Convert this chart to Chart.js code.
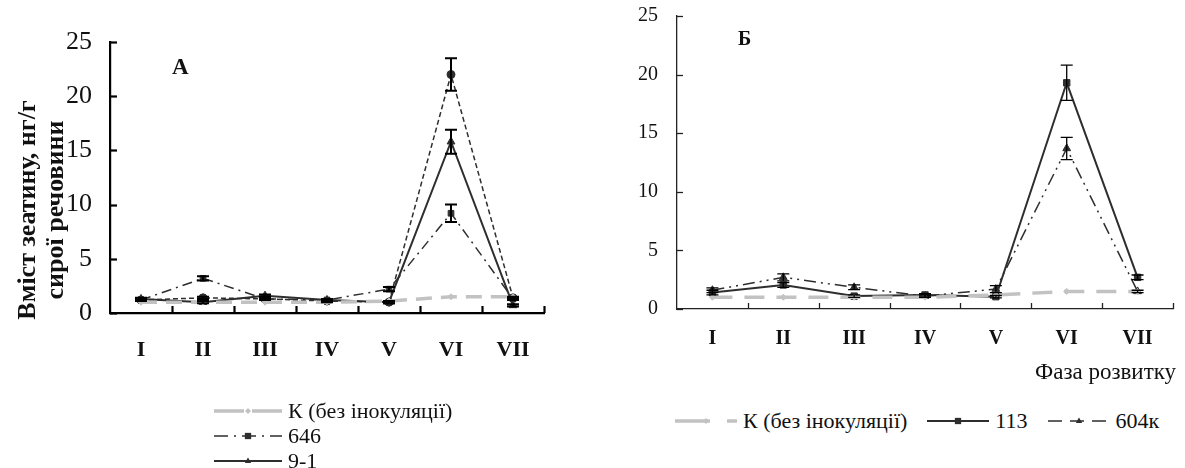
<!DOCTYPE html>
<html><head><meta charset="utf-8">
<script src="https://cdn.jsdelivr.net/npm/chart.js@4.4.0/dist/chart.umd.min.js"></script>
<style>
body{margin:0;background:#fff;width:1185px;height:468px;overflow:hidden;position:relative;font-family:"Liberation Serif","Times New Roman",serif;color:#111;}
.wrap{position:absolute;}
.leg{position:absolute;font-size:22px;color:#111;}
.item{display:flex;align-items:center;height:25px;white-space:nowrap;}
.item canvas{margin-right:6px;}
.panel{position:absolute;font-weight:bold;}
</style></head><body>
<div class="wrap" style="left:0;top:0;width:560px;height:390px"><canvas id="cA"></canvas></div>
<div class="wrap" style="left:600px;top:0;width:585px;height:400px"><canvas id="cB"></canvas></div>
<div class="panel" style="left:172px;top:54px;font-size:23px">А</div>
<div class="panel" style="left:738px;top:27px;font-size:20px">Б</div>
<div class="leg" id="legA" style="left:214px;top:398px"></div>
<div class="leg" id="legB" style="left:675px;top:408px;display:flex"></div>
<div id="xTitleB" style="position:absolute;left:1035px;top:359px;font-size:23px"></div>
<script>
// ---- data ----
const phases = ['I','II','III','IV','V','VI','VII'];
const yTicks = [0,5,10,15,20,25];
const yTitleA = ['Вміст зеатину, нг/г','сирої речовини'];
const xTitleB = 'Фаза розвитку';

// Panel A
const namesA = ['К (без інокуляції)','646','9-1',''];
const controlA = [1.0, 1.0, 1.0, 1.0, 1.1, 1.5, 1.5];
const strain646 = [1.2, 3.2, 1.3, 1.2, 2.2, 9.2, 1.3];
const strain91  = [1.3, 1.0, 1.6, 1.2, 1.0, 15.8, 0.7];
const strainA4  = [1.2, 1.4, 1.3, 1.1, 1.0, 22.0, 1.4];
const err646 = [0.1, 0.2, 0.1, 0.1, 0.2, 0.8, 0.1];
const err91  = [0.1, 0.1, 0.1, 0.1, 0.1, 1.1, 0.1];
const errA4  = [0.1, 0.1, 0.1, 0.1, 0.1, 1.5, 0.1];

// Panel B
const namesB = ['К (без інокуляції)','113','604к'];
const controlB = [1.0, 1.0, 1.0, 1.0, 1.2, 1.5, 1.5];
const strain113  = [1.4, 2.05, 1.1, 1.2, 1.05, 19.3, 2.7];
const strain604k = [1.6, 2.7, 1.85, 1.1, 1.7, 13.7, 1.5];
const err113  = [0.2, 0.2, 0.1, 0.1, 0.1, 1.5, 0.2];
const err604k = [0.2, 0.3, 0.2, 0.1, 0.3, 0.95, 0.1];

// ---- styles ----
const GRAY = '#c2c2c2', DARK = '#2e2e2e';
const FONT = '"Liberation Serif", "Times New Roman", serif';

document.getElementById('xTitleB').textContent = xTitleB;

function ds(label, data, errors, color, width, dash, pstyle, r, legend, legDash){
  return {label, data, errors, borderColor:color, backgroundColor:color, borderWidth:width,
    borderDash:dash, pointStyle:pstyle, pointRadius:r, pointHoverRadius:r, pointBorderWidth:1,
    pointBorderColor:color, pointBackgroundColor:color, tension:0, fill:false, clip:false,
    inLegend:legend, legendDash:legDash || dash};
}

const dsA = [
  ds(namesA[0], controlA, null, GRAY, 3.5, [16,9], 'rectRot', 3, true, [30,8]),
  ds(namesA[1], strain646, err646, DARK, 1.5, [10,5,2,5], 'rect', 4, true, [14,6,2,6]),
  ds(namesA[2], strain91, err91, DARK, 2, [], 'triangle', 4.5, true),
  ds(namesA[3], strainA4, errA4, DARK, 1.5, [5,3], 'circle', 4, false)
];
const dsB = [
  ds(namesB[0], controlB, null, GRAY, 3.5, [20,12], 'rectRot', 3, true, [35,17]),
  ds(namesB[1], strain113, err113, DARK, 2, [], 'rect', 4.5, true),
  ds(namesB[2], strain604k, err604k, DARK, 1.5, [12,5,2,5,2,5], 'triangle', 4.5, true, [14,8])
];

// ---- plugins ----
const deco = {
  id:'deco',
  afterDatasetsDraw(chart, args, o){
    const ctx = chart.ctx, a = chart.chartArea, xs = chart.scales.x, ys = chart.scales.y;
    ctx.save();
    ctx.strokeStyle = '#000'; ctx.lineWidth = o.errWidth; ctx.setLineDash([]);
    chart.data.datasets.forEach((d,i)=>{
      if(!d.errors) return;
      const meta = chart.getDatasetMeta(i);
      d.data.forEach((v,j)=>{
        const e = d.errors[j]; if(!e) return;
        const px = meta.data[j].x;
        const y1 = ys.getPixelForValue(v+e), y2 = ys.getPixelForValue(v-e);
        ctx.beginPath();
        ctx.moveTo(px,y1); ctx.lineTo(px,y2);
        ctx.moveTo(px-o.cap,y1); ctx.lineTo(px+o.cap,y1);
        ctx.moveTo(px-o.cap,y2); ctx.lineTo(px+o.cap,y2);
        ctx.stroke();
      });
    });
    ctx.strokeStyle = o.axisColor; ctx.lineWidth = o.tickWidth;
    ys.ticks.forEach(t=>{
      const py = Math.round(ys.getPixelForValue(t.value))+0.5;
      ctx.beginPath(); ctx.moveTo(a.left,py); ctx.lineTo(a.left+o.len,py); ctx.stroke();
    });
    const n = xs.ticks.length;
    const step = xs.getPixelForValue(1)-xs.getPixelForValue(0);
    for(let i=1;i<=n;i++){
      const px = Math.round(xs.getPixelForValue(i-1) + step/2)+0.5;
      ctx.beginPath(); ctx.moveTo(px,a.bottom); ctx.lineTo(px,a.bottom-o.len); ctx.stroke();
    }
    if(o.yTitle){
      ctx.fillStyle = '#111'; ctx.font = o.yTitleFont; ctx.textAlign='center'; ctx.textBaseline='middle';
      o.yTitle.forEach((t,k)=>{
        ctx.save(); ctx.translate(o.yTitleX[k], o.yTitleY); ctx.rotate(-Math.PI/2); ctx.fillText(t,0,0); ctx.restore();
      });
    }
    ctx.restore();
  }
};

function makeChart(id, datasets, cfg){
  return new Chart(document.getElementById(id), {
    type:'line',
    data:{labels:phases, datasets},
    plugins:[deco],
    options:{
      responsive:true, maintainAspectRatio:false, animation:false,
      layout:{padding:{top:cfg.top, right:cfg.right, left:0, bottom:0}},
      plugins:{legend:{display:false}, tooltip:{enabled:false},
        deco:{errWidth:cfg.errWidth, cap:cfg.cap, axisColor:cfg.axisColor, tickWidth:cfg.axisWidth, len:cfg.tickLen,
              yTitle:cfg.yTitle, yTitleFont:cfg.yTitleFont, yTitleX:cfg.yTitleX, yTitleY:cfg.yTitleY}},
      scales:{
        x:{type:'category', offset:true,
           grid:{display:false, drawTicks:false},
           border:{display:true, color:cfg.axisColor, width:cfg.axisWidth},
           ticks:{color:'#111', padding:cfg.xPad, font:{family:FONT, size:cfg.xFont, weight:'bold'}, maxRotation:0, autoSkip:false},
           afterFit:(s)=>{s.height = cfg.xHeight; s.paddingLeft = 0; s.paddingRight = 0;}},
        y:{min:0, max:25, afterBuildTicks:(s)=>{s.ticks = yTicks.map(v=>({value:v}));},
           grid:{display:false, drawTicks:false},
           border:{display:true, color:cfg.axisColor, width:cfg.axisWidth},
           ticks:{color:'#111', padding:cfg.yPad, font:{family:FONT, size:cfg.yFont}},
           afterFit:(s)=>{s.width = cfg.yWidth; s.paddingTop = 0; s.paddingBottom = 0;}}
      }
    }
  });
}

makeChart('cA', dsA, {top:42, right:16, xHeight:77, yWidth:110, xPad:24, yPad:18, xFont:22, yFont:26,
  axisColor:'#000', axisWidth:2.2, tickLen:7, errWidth:2, cap:6,
  yTitle:yTitleA, yTitleFont:'bold 26px "Liberation Serif", "Times New Roman", serif', yTitleX:[28,56], yTitleY:210});
makeChart('cB', dsB, {top:16, right:12, xHeight:91, yWidth:77, xPad:18, yPad:19, xFont:20, yFont:20,
  axisColor:'#222', axisWidth:1.3, tickLen:6, errWidth:1.3, cap:6});

function marker(ctx, style, x, y, r){
  ctx.beginPath();
  if(style==='rect'){ctx.rect(x-r*0.9,y-r*0.9,r*1.8,r*1.8);}
  else if(style==='triangle'){ctx.moveTo(x,y-r);ctx.lineTo(x+r*0.9,y+r*0.6);ctx.lineTo(x-r*0.9,y+r*0.6);ctx.closePath();}
  else if(style==='rectRot'){ctx.moveTo(x,y-r);ctx.lineTo(x+r,y);ctx.lineTo(x,y+r);ctx.lineTo(x-r,y);ctx.closePath();}
  else {ctx.arc(x,y,r,0,Math.PI*2);}
  ctx.fill();
}
function legend(el, datasets, w, horizontal){
  datasets.filter(d=>d.inLegend).forEach(d=>{
    const item = document.createElement('div'); item.className='item';
    const c = document.createElement('canvas'); c.width=w; c.height=20;
    const ctx = c.getContext('2d');
    ctx.strokeStyle=d.borderColor; ctx.lineWidth=d.borderWidth; ctx.setLineDash(d.legendDash);
    ctx.beginPath(); ctx.moveTo(0,10); ctx.lineTo(w,10); ctx.stroke();
    ctx.fillStyle=d.borderColor; marker(ctx, d.pointStyle, w/2, 10, Math.min(d.pointRadius,3.5));
    const s = document.createElement('span'); s.textContent=d.label;
    item.appendChild(c); item.appendChild(s);
    if(horizontal) item.style.marginRight='20px';
    el.appendChild(item);
  });
}
legend(document.getElementById('legA'), dsA, 68, false);
legend(document.getElementById('legB'), dsB, 62, true);
</script>
</body></html>
